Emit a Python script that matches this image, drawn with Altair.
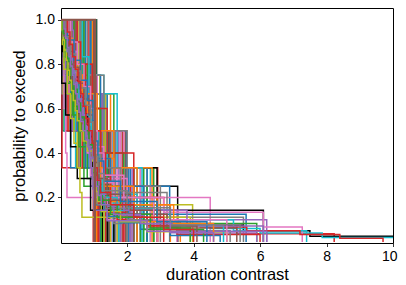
import altair as alt
import pandas as pd

# --- data: each curve is a sorted list of duration contrasts ---
curve_values = [
    # single values near 1
    [1.0], [0.98], [1.05], [1.02],
    # two values
    [0.05, 1.2], [0.1, 1.98], [0.15, 1.6], [0.2, 1.7], [0.25, 1.1], [0.3, 1.9],
    [0.35, 1.75], [0.4, 1.3], [0.45, 1.5], [0.5, 1.85], [0.55, 1.05], [0.6, 1.45],
    [0.65, 1.25], [0.7, 1.55], [0.75, 1.15], [0.8, 1.65], [0.85, 1.35], [0.9, 1.8],
    [0.95, 1.4], [1.06, 1.26], [1.0, 1.95], [0.12, 1.02], [0.22, 1.12], [0.38, 1.22],
    [0.58, 1.62], [0.28, 1.42], [0.68, 1.58], [0.48, 1.08], [0.15, 1.88],
    # three values
    [0.04, 0.04, 2.92], [0.04, 1.33, 2.0], [1.08, 1.27, 1.4], [1.05, 1.36, 1.5],
    [0.1, 0.3, 2.1], [0.2, 0.6, 2.5], [0.3, 0.9, 1.6], [0.15, 0.45, 2.7],
    [0.5, 0.7, 2.2], [0.25, 0.8, 1.9], [0.35, 0.55, 2.4], [0.6, 0.95, 2.8],
    [0.08, 0.5, 1.3], [0.45, 0.85, 2.05], [0.7, 1.1, 2.6], [0.4, 0.65, 1.15],
    [0.18, 0.75, 2.3], [0.9, 1.2, 2.9], [0.3, 1.1, 2.4], [0.5, 1.4, 2.6],
    [0.7, 1.6, 2.2], [0.2, 1.2, 1.8], [0.6, 1.5, 2.75], [0.9, 1.7, 2.45],
    [0.15, 1.25, 2.15],
    # four values
    [1.03, 1.18, 1.3, 1.7], [1.05, 1.3, 1.4, 1.6], [0.3, 0.6, 1.1, 3.52],
    [0.9, 1.2, 1.98, 3.28], [0.1, 0.4, 0.7, 2.6], [0.2, 0.5, 1.2, 2.1],
    [0.05, 0.35, 0.9, 1.8], [0.4, 0.9, 1.5, 2.3], [0.2, 1.1, 1.9, 2.7],
    [0.6, 1.3, 2.0, 3.0],
    # five to seven values
    [0.05, 0.1, 0.15, 0.19, 4.5], [0.2, 0.45, 0.8, 1.3, 2.1], [0.45, 1.0, 1.2, 1.6, 2.2],
    [0.3, 0.6, 0.9, 1.5, 2.9], [0.3, 0.8, 1.2, 1.9, 2.6], [0.5, 0.95, 1.4, 2.2, 3.1],
    [0.1, 0.3, 0.6, 0.9, 1.25, 3.97], [0.08, 0.3, 0.5, 0.75, 1.05, 2.6],
    [0.65, 0.85, 1.0, 1.15, 1.4, 1.75], [0.4, 0.4, 0.7, 1.0, 1.4, 2.4],
    [0.2, 0.5, 1.1, 1.6, 2.3, 3.3],
    [0.05, 0.3, 0.55, 0.8, 0.95, 1.2, 6.1], [0.1, 0.2, 0.35, 0.55, 0.8, 1.0, 2.8],
    [0.2, 0.5, 0.8, 1.0, 1.3, 2.0, 3.5], [0.03, 0.03, 0.15, 0.3, 0.5, 0.9, 1.6],
    # eight to twelve values
    [0.15, 0.4, 0.65, 0.9, 1.2, 1.6, 1.8, 2.3],
    [0.1, 0.25, 0.5, 0.7, 1.0, 1.5, 2.5, 5.58],
    [0.15, 0.3, 0.45, 0.6, 0.9, 1.2, 1.8, 3.2, 5.5],
    [0.05, 0.1, 0.2, 0.3, 0.4, 0.5, 0.58, 0.64, 3.9],
    [0.1, 0.2, 0.35, 0.5, 0.7, 0.9, 1.1, 1.6, 2.4, 6.2],
    [0.1, 0.3, 0.5, 0.6, 0.7, 0.8, 0.9, 1.1, 1.4, 2.9],
    [0.15, 0.3, 0.45, 0.6, 0.75, 0.9, 1.05, 1.2, 1.5, 2.0, 3.6],
    [0.06, 0.18, 0.3, 0.42, 0.54, 0.66, 0.78, 0.9, 1.0, 1.1, 1.6, 2.0],
    [0.08, 0.15, 0.25, 0.4, 0.55, 0.7, 0.85, 1.0, 1.3, 1.8, 2.9, 5.9],
    [0.5, 0.6, 0.75, 0.9, 1.0, 1.2, 1.35, 1.5, 1.7, 1.9],
    # many values, long tails
    [0.12, 0.18, 0.24, 0.3, 0.36, 0.42, 0.48, 0.54, 0.6, 0.66, 0.72, 0.78, 0.84,
     0.9, 0.94, 0.98, 1.0, 1.02, 1.05, 1.1, 1.16, 1.24, 1.35, 1.7, 2.6, 5.3, 8.23],
    [0.1, 0.14, 0.18, 0.22, 0.26, 0.3, 0.34, 0.38, 0.42, 0.46, 0.5, 0.54, 0.58,
     0.62, 0.66, 0.7, 0.74, 0.78, 0.82, 0.86, 0.9, 0.93, 0.96, 0.98, 1.0, 1.01,
     1.03, 1.05, 1.08, 1.11, 1.15, 1.2, 1.27, 1.36, 1.7, 2.4, 3.8, 5.5, 7.5, 12.0],
    [0.05, 0.08, 0.11, 0.14, 0.17, 0.2, 0.23, 0.26, 0.29, 0.32, 0.35, 0.38, 0.41,
     0.44, 0.47, 0.5, 0.53, 0.56, 0.59, 0.62, 0.65, 0.68, 0.71, 0.74, 0.78, 0.82,
     0.86, 0.9, 0.96, 0.98, 0.99, 1.0, 1.01, 1.02, 1.04, 1.06, 1.09, 1.12, 1.16,
     1.21, 1.27, 1.35, 1.55, 1.9, 2.5, 3.3, 4.5, 6.0, 7.87, 13.0],
    [0.1, 0.2, 0.3, 0.45, 0.6, 0.8, 0.9, 0.98, 1.02, 1.1, 1.25, 1.6, 3.1, 6.1, 7.27],
    [0.1, 0.2, 0.3, 0.4, 0.5, 0.6, 0.7, 0.8, 0.9, 0.93, 0.97, 1.0, 1.03, 1.08,
     1.15, 1.3, 1.7, 2.8, 5.2, 7.4],
    [0.05, 0.075, 0.1, 0.125, 0.15, 0.175, 0.2, 0.225, 0.25, 0.275, 0.3, 0.325,
     0.35, 0.375, 0.4, 0.43, 0.46, 0.49, 0.52, 0.55, 0.58, 0.61, 0.64, 0.67, 0.7,
     0.73, 0.76, 0.79, 0.82, 0.85, 0.88, 0.9, 0.92, 0.94, 0.96, 0.97, 0.98, 0.99,
     1.0, 1.01, 1.02, 1.03, 1.05, 1.07, 1.1, 1.13, 1.17, 1.22, 1.28, 1.36, 1.5,
     1.7, 2.0, 2.5, 3.2, 4.2, 5.6, 7.2, 8.4, 9.7],
    [0.15, 0.2, 0.25, 0.3, 0.35, 0.4, 0.45, 0.5, 0.55, 0.6, 0.66, 0.72, 0.8, 0.88,
     0.97, 1.0, 1.03, 1.07, 1.12, 1.2, 1.32, 1.7, 2.5, 3.6, 5.9],
    [0.1, 0.14, 0.18, 0.22, 0.26, 0.3, 0.34, 0.38, 0.42, 0.46, 0.5, 0.55, 0.6,
     0.66, 0.72, 0.8, 0.88, 0.96, 0.99, 1.01, 1.04, 1.08, 1.12, 1.18, 1.26, 1.37,
     1.8, 2.6, 3.5, 6.0],
    [0.05, 0.09, 0.13, 0.17, 0.21, 0.25, 0.29, 0.33, 0.37, 0.41, 0.45, 0.49, 0.53,
     0.57, 0.61, 0.66, 0.71, 0.76, 0.82, 0.9, 0.96, 0.98, 1.0, 1.02, 1.05, 1.08,
     1.12, 1.17, 1.23, 1.31, 1.4, 1.8, 2.4, 3.3, 4.8],
    [0.05, 0.1, 0.16, 0.22, 0.29, 0.36, 0.44, 0.52, 0.6, 0.7, 0.82, 0.97, 1.0,
     1.04, 1.1, 1.2, 1.35, 2.0, 3.5, 5.1],
    [0.06, 0.12, 0.2, 0.28, 0.36, 0.45, 0.55, 0.7, 0.85, 0.98, 1.02, 1.08, 1.2,
     2.0, 3.2, 5.3],
    [0.05, 0.1, 0.15, 0.2, 0.27, 0.34, 0.42, 0.5, 0.6, 0.75, 0.97, 1.0, 1.05,
     1.12, 1.25, 1.7, 2.5, 4.3],
    [0.04, 0.08, 0.12, 0.17, 0.22, 0.27, 0.32, 0.38, 0.44, 0.5, 0.58, 0.68, 0.8,
     0.96, 0.99, 1.02, 1.06, 1.12, 1.22, 1.8, 2.6, 5.0],
    [0.1, 0.2, 0.3, 0.4, 0.55, 0.7, 0.88, 0.98, 1.03, 1.1, 1.25, 2.3, 3.3, 4.9],
    [0.1, 0.2, 0.3, 0.4, 0.5, 0.6, 0.75, 0.9, 1.0, 1.05, 1.15, 1.9, 3.8, 6.1],
    [0.35, 0.38, 0.41, 0.45, 0.5, 0.55, 0.6, 0.64, 0.68, 0.72, 0.77, 0.82, 0.87,
     0.92, 0.95, 0.97, 0.99, 1.0, 1.4, 2.6, 6.2],
    # medium curves with tails
    [0.2, 0.35, 0.5, 0.65, 0.8, 0.97, 1.02, 1.1, 1.3, 2.2, 3.4, 4.6],
    [0.1, 0.25, 0.4, 0.55, 0.7, 0.85, 0.98, 1.0, 1.05, 1.15, 1.4, 2.1, 3.0, 4.1],
    [0.3, 0.5, 0.7, 0.9, 1.0, 1.1, 1.3, 1.9, 2.8, 5.0],
    [0.08, 0.16, 0.24, 0.32, 0.4, 0.5, 0.6, 0.72, 0.85, 0.97, 1.01, 1.06, 1.15,
     1.5, 2.7, 3.9],
    [0.2, 0.4, 0.6, 0.8, 0.97, 1.03, 1.12, 1.3, 1.8, 2.9, 4.4],
    [0.15, 0.3, 0.45, 0.6, 0.75, 0.9, 0.99, 1.04, 1.12, 1.3, 2.0, 3.3, 5.4],
    [0.1, 0.15, 0.2, 0.25, 0.3, 0.35, 0.4, 0.45, 0.5, 0.55, 0.6, 0.68, 0.76, 0.85,
     0.97, 1.0, 1.03, 1.07, 1.13, 1.22, 1.6, 2.4, 3.3, 4.6],
    [0.2, 0.28, 0.36, 0.44, 0.52, 0.6, 0.68, 0.76, 0.85, 0.95, 1.0, 1.04, 1.1, 1.2,
     1.5, 2.2, 3.1, 4.0],
    # the single value drawn last, on top
    [1.03],
]

curve_color_names = (
    ["K", "R", "G", "Gy"]
    + ["B", "G", "B", "Pk", "O", "O", "P", "C", "R", "Br", "Ol", "K", "G", "Pk",
       "B", "Gy", "R", "Pk", "O", "K", "Br", "C", "R", "G", "P", "Gy", "C", "O", "R"]
    + ["R", "Gy", "K", "Ol", "B", "G", "O", "C", "P", "Pk", "Br", "G", "Ol", "B",
       "Gy", "R", "C", "K", "Pk", "B", "G", "Br", "O", "C", "P"]
    + ["Ol", "C", "K", "B", "G", "R", "P", "Br", "Pk", "Gy"]
    + ["Pk", "P", "Br", "O", "G", "R", "Ol", "B", "C", "G", "O", "K", "G", "Pk", "K"]
    + ["O", "B", "Gy", "Ol", "P", "Pk", "O", "Gy", "G", "R"]
    + ["R", "K", "C", "Pk", "C", "R", "P", "R", "B", "Gy", "Br", "G", "Ol", "C",
       "P", "P"]
    + ["O", "Br", "Pk", "G", "B", "Gy", "P", "R"]
    + ["Br"]
)

palette = {
    "B": "#1f77b4", "O": "#ff7f0e", "G": "#2ca02c", "R": "#d62728", "P": "#9467bd",
    "Br": "#8c564b", "Pk": "#e377c2", "Gy": "#7f7f7f", "Ol": "#bcbd22",
    "C": "#17becf", "K": "#000000",
}

x_ticks = [2, 4, 6, 8, 10]
y_ticks = [0.2, 0.4, 0.6, 0.8, 1.0]

# empirical probability to exceed, per curve
rows = []
for c, vals in enumerate(curve_values):
    v = sorted(vals)
    n = len(v)
    rows.append({"curve": c, "idx": 0, "x": 0.0, "p": 1.0})
    for i, xv in enumerate(v, start=1):
        rows.append({"curve": c, "idx": i, "x": xv, "p": (n - i) / n})
df = pd.DataFrame(rows)

names = (curve_color_names + ["Gy"] * len(curve_values))[:len(curve_values)]
names[-1] = "Br"
colors = [palette[k] for k in names]
last = len(curve_values) - 1

x_enc = alt.X("x:Q", scale=alt.Scale(domain=[0.01, 10], nice=False, zero=False),
              axis=alt.Axis(values=x_ticks, title="duration contrast", format="d",
                            titlePadding=3, labelFlush=True, labelFlushOffset=4))
y_enc = alt.Y("p:Q", scale=alt.Scale(domain=[-0.005, 1.053], nice=False, zero=False),
              axis=alt.Axis(values=y_ticks, title="probability to exceed",
                            format=".1f", titlePadding=8, labelFlush=False))
c_enc = alt.Color("curve:N", scale=alt.Scale(domain=list(range(len(curve_values))),
                                             range=colors), legend=None)

base = alt.Chart(df).mark_line(
    interpolate="step-after", strokeWidth=1.5, clip=True
).encode(x=x_enc, y=y_enc, color=c_enc, order="idx:Q")

top = alt.Chart(df).transform_filter(alt.datum.curve == last).mark_line(
    interpolate="step-after", strokeWidth=2.2, clip=True
).encode(x=x_enc, y=y_enc, color=c_enc, order="idx:Q")

chart = alt.layer(base, top).properties(
    width=332, height=235,
    autosize=alt.AutoSizeParams(type="none"),
    padding={"left": 53, "top": 0, "right": 5, "bottom": 42},
).configure_view(
    stroke="black", strokeWidth=1
).configure_axis(
    domain=False, grid=False, tickColor="black", tickSize=3.5, tickWidth=0.8,
    labelFont="Liberation Sans", labelFontSize=14, labelColor="black", labelPadding=3,
    titleFont="Liberation Sans", titleFontSize=16.5, titleColor="black",
    titleFontWeight="normal",
)

chart.save("out.html", embed_options={"renderer": "svg", "actions": False})
